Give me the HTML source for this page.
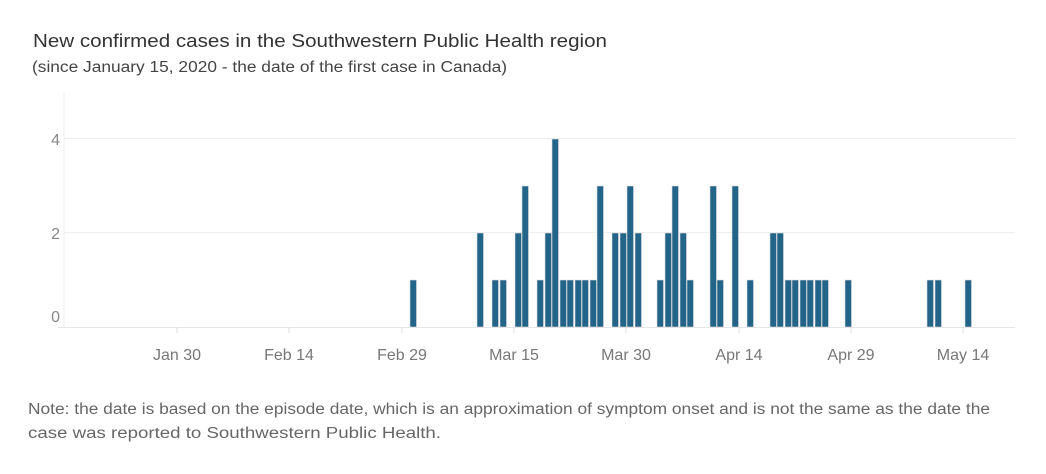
<!DOCTYPE html>
<html><head><meta charset="utf-8"><style>
body{margin:0;background:#fff;width:1046px;height:469px;overflow:hidden;font-family:"Liberation Sans",sans-serif}
</style></head><body>
<svg width="1046" height="469" xmlns="http://www.w3.org/2000/svg" font-family="Liberation Sans, sans-serif">
<text x="33" y="47" font-size="18.5" fill="#333" textLength="574" lengthAdjust="spacingAndGlyphs">New confirmed cases in the Southwestern Public Health region</text>
<text x="32" y="72" font-size="15.5" fill="#444" textLength="475" lengthAdjust="spacingAndGlyphs">(since January 15, 2020 -  the date of the first case in Canada)</text>
<line x1="64" y1="92" x2="64" y2="327" stroke="#eee" stroke-width="1"/>
<line x1="64" y1="138.5" x2="1015" y2="138.5" stroke="#eee"/>
<line x1="64" y1="232.5" x2="1015" y2="232.5" stroke="#eee"/>
<line x1="58" y1="327.5" x2="1015" y2="327.5" stroke="#e6e6e6"/>
<g fill="#888" font-size="16" text-anchor="end">
<text x="60" y="145">4</text><text x="60" y="239">2</text><text x="60" y="322">0</text>
</g>
<g stroke="#ddd">
<line x1="177" y1="327" x2="177" y2="333"/><line x1="289" y1="327" x2="289" y2="333"/><line x1="402" y1="327" x2="402" y2="333"/><line x1="514" y1="327" x2="514" y2="333"/><line x1="626" y1="327" x2="626" y2="333"/><line x1="739" y1="327" x2="739" y2="333"/><line x1="851" y1="327" x2="851" y2="333"/><line x1="963" y1="327" x2="963" y2="333"/>
</g>
<g fill="#777" font-size="16" text-anchor="middle">
<text x="177" y="360">Jan 30</text><text x="289" y="360">Feb 14</text><text x="402" y="360">Feb 29</text><text x="514" y="360">Mar 15</text><text x="626" y="360">Mar 30</text><text x="739" y="360">Apr 14</text><text x="851" y="360">Apr 29</text><text x="963" y="360">May 14</text>
</g>
<g fill="#236589" stroke="#ddd" stroke-width="0.6">
<rect x="410" y="280" width="6.5" height="47"/>
<rect x="477" y="233" width="6.5" height="94"/>
<rect x="492" y="280" width="6.5" height="47"/>
<rect x="500" y="280" width="6.5" height="47"/>
<rect x="515" y="233" width="6.5" height="94"/>
<rect x="522" y="186" width="6.5" height="141"/>
<rect x="537" y="280" width="6.5" height="47"/>
<rect x="545" y="233" width="6.5" height="94"/>
<rect x="552" y="139" width="6.5" height="188"/>
<rect x="560" y="280" width="6.5" height="47"/>
<rect x="567" y="280" width="6.5" height="47"/>
<rect x="575" y="280" width="6.5" height="47"/>
<rect x="582" y="280" width="6.5" height="47"/>
<rect x="590" y="280" width="6.5" height="47"/>
<rect x="597" y="186" width="6.5" height="141"/>
<rect x="612" y="233" width="6.5" height="94"/>
<rect x="620" y="233" width="6.5" height="94"/>
<rect x="627" y="186" width="6.5" height="141"/>
<rect x="635" y="233" width="6.5" height="94"/>
<rect x="657" y="280" width="6.5" height="47"/>
<rect x="665" y="233" width="6.5" height="94"/>
<rect x="672" y="186" width="6.5" height="141"/>
<rect x="680" y="233" width="6.5" height="94"/>
<rect x="687" y="280" width="6.5" height="47"/>
<rect x="710" y="186" width="6.5" height="141"/>
<rect x="717" y="280" width="6.5" height="47"/>
<rect x="732" y="186" width="6.5" height="141"/>
<rect x="747" y="280" width="6.5" height="47"/>
<rect x="770" y="233" width="6.5" height="94"/>
<rect x="777" y="233" width="6.5" height="94"/>
<rect x="785" y="280" width="6.5" height="47"/>
<rect x="792" y="280" width="6.5" height="47"/>
<rect x="800" y="280" width="6.5" height="47"/>
<rect x="807" y="280" width="6.5" height="47"/>
<rect x="815" y="280" width="6.5" height="47"/>
<rect x="822" y="280" width="6.5" height="47"/>
<rect x="845" y="280" width="6.5" height="47"/>
<rect x="927" y="280" width="6.5" height="47"/>
<rect x="935" y="280" width="6.5" height="47"/>
<rect x="965" y="280" width="6.5" height="47"/>
</g>
<text x="28" y="414" font-size="15.5" fill="#666" textLength="962" lengthAdjust="spacingAndGlyphs">Note: the date is based on the episode date, which is an approximation of symptom onset and is not the same as the date the</text>
<text x="28" y="438" font-size="15.5" fill="#666" textLength="413" lengthAdjust="spacingAndGlyphs">case was reported to Southwestern Public Health.</text>
</svg>
</body></html>
